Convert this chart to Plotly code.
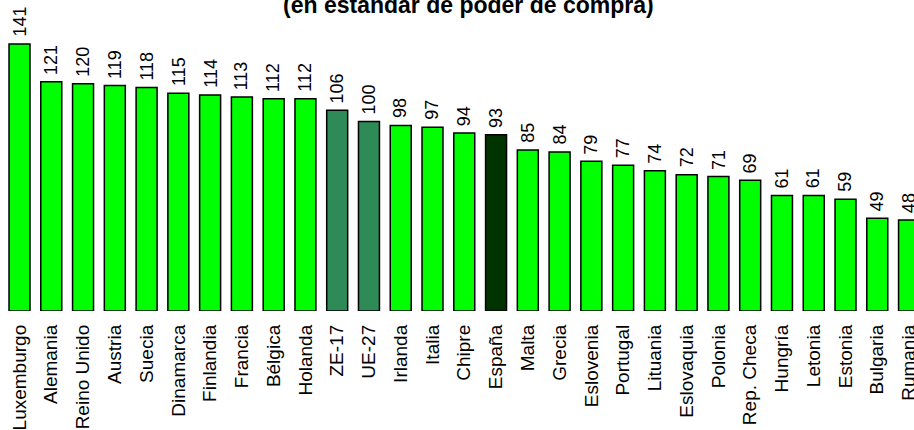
import plotly.graph_objects as go

paises = ['Luxemburgo', 'Alemania', 'Reino Unido', 'Austria', 'Suecia', 'Dinamarca',
          'Finlandia', 'Francia', 'Bélgica', 'Holanda', 'ZE-17', 'UE-27', 'Irlanda',
          'Italia', 'Chipre', 'España', 'Malta', 'Grecia', 'Eslovenia', 'Portugal',
          'Lituania', 'Eslovaquia', 'Polonia', 'Rep. Checa', 'Hungría', 'Letonia',
          'Estonia', 'Bulgaria', 'Rumania']
pib_pc = [141, 121, 120, 119, 118, 115, 114, 113, 112, 112, 106, 100, 98, 97, 94,
          93, 85, 84, 79, 77, 74, 72, 71, 69, 61, 61, 59, 49, 48]

# colores: agregados en verde mar, España destacada en verde oscuro
colores = []
for p in paises:
    if p in ('ZE-17', 'UE-27'):
        colores.append('#2E8B57')
    elif p == 'España':
        colores.append('#003300')
    else:
        colores.append('#00FF00')

fig = go.Figure()
fig.add_trace(go.Bar(
    x=paises, y=pib_pc, width=0.66,
    marker=dict(color=colores, line=dict(color='black', width=1.5)),
    cliponaxis=False,
))

# etiquetas de valor giradas sobre cada barra
for p, v in zip(paises, pib_pc):
    fig.add_annotation(x=p, y=v, text=str(v), textangle=-90, showarrow=False,
                       xanchor='center', yanchor='bottom', yshift=5,
                       font=dict(size=18, color='black', family='Liberation Sans, Arial'))

fig.add_annotation(
    text='<b>(en estándar de poder de compra)</b>', xref='paper', yref='paper',
    x=0.513, y=1, xanchor='center', yanchor='bottom', yshift=-20, showarrow=False,
    font=dict(size=23, color='black', family='Liberation Sans, Arial'),
)

fig.update_layout(
    width=914, height=430,
    margin=dict(l=0, r=0, t=0, b=119),
    plot_bgcolor='white', paper_bgcolor='white',
    showlegend=False,
    font=dict(family='Liberation Sans, Arial', color='black'),
)
fig.update_xaxes(range=[-0.614, 28.156], tickangle=-90, ticklabelstandoff=9,
                 tickfont=dict(size=19), showgrid=False, showline=False, ticks='',
                 automargin=False)
fig.update_yaxes(range=[0, 164.2], visible=False, automargin=False)

fig.write_html('out.html', config={'displayModeBar': False},
               post_script="document.body.style.margin='0';")
